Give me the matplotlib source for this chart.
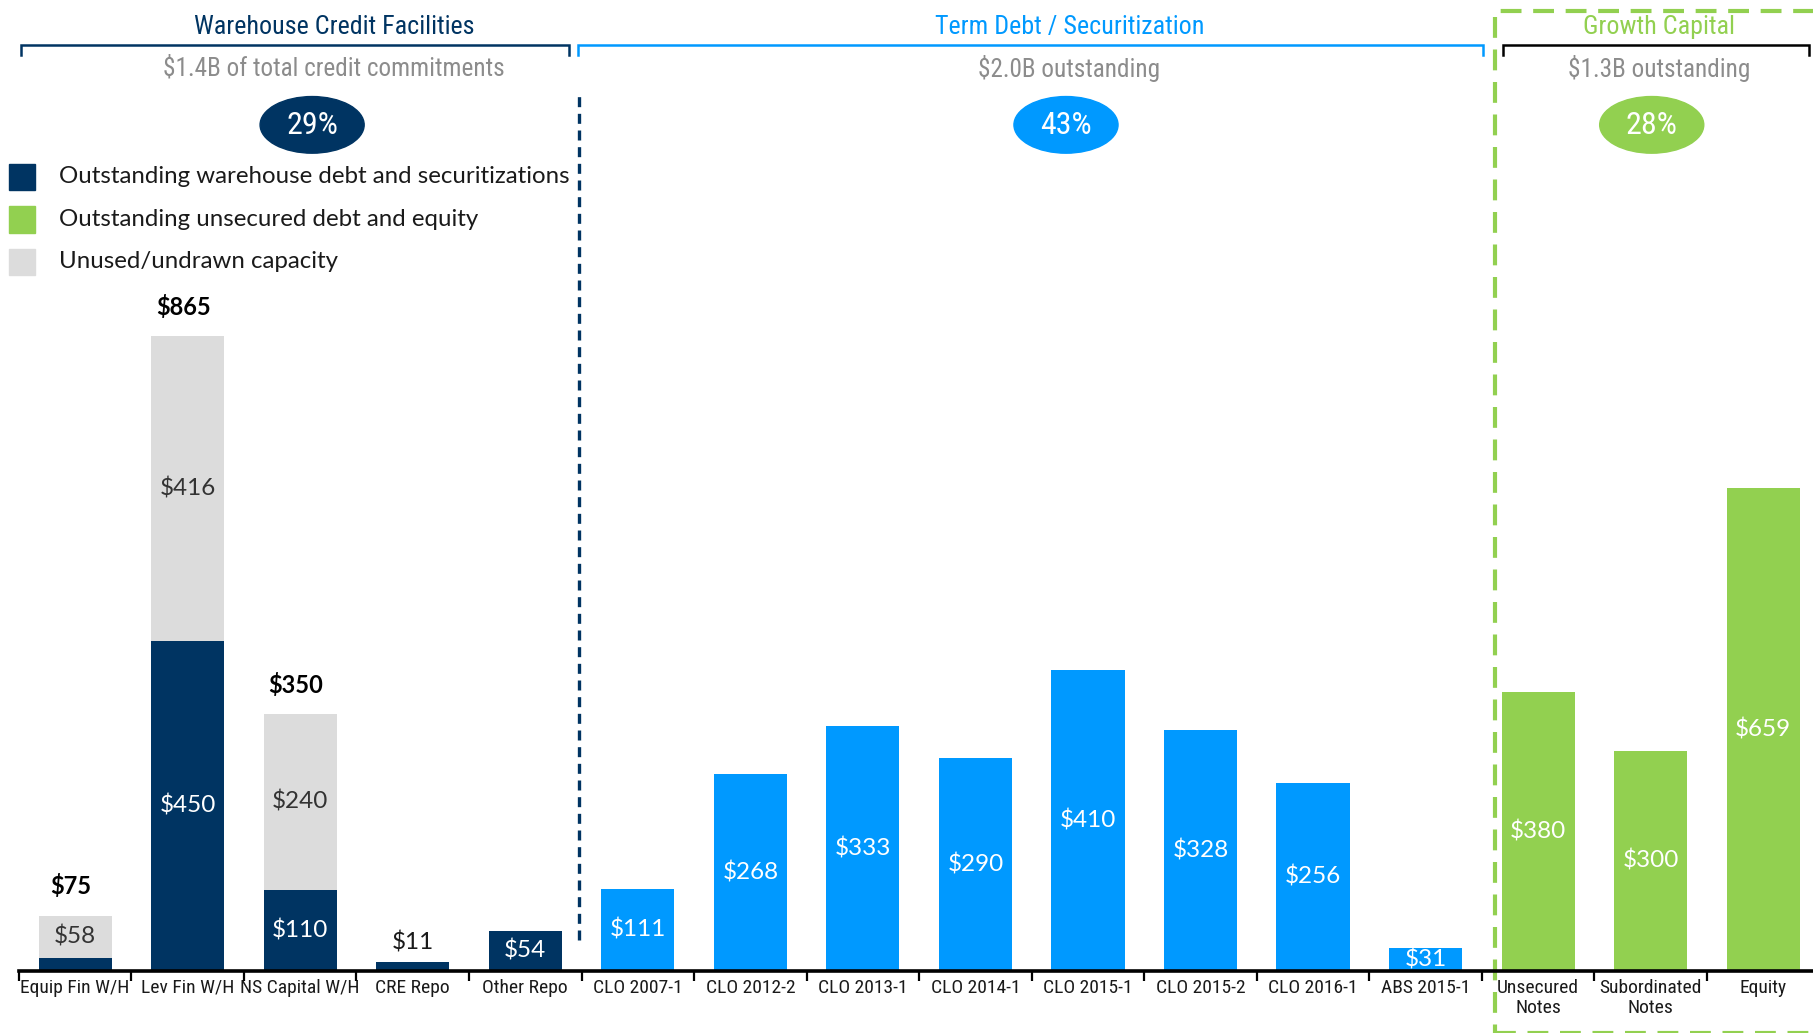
import matplotlib
matplotlib.use('Agg')
import matplotlib.pyplot as plt
from matplotlib import font_manager
from matplotlib.patches import Ellipse, Rectangle
import numpy as np


def pick(*names):
    for n in names:
        try:
            font_manager.findfont(font_manager.FontProperties(family=n), fallback_to_default=False)
            return n
        except Exception:
            pass
    return 'DejaVu Sans'


NARROW = pick('Liberation Sans Narrow', 'Roboto Condensed', 'Liberation Sans')
BODY = pick('Lato', 'Open Sans', 'DejaVu Sans')

# ---------------- data ----------------
wh_cats = ['Equip Fin W/H', 'Lev Fin W/H', 'NS Capital W/H', 'CRE Repo', 'Other Repo']
wh_outstanding = [17, 450, 110, 11, 54]
wh_unused = [58, 416, 240, 0, 0]
wh_totals = ['$75', '$865', '$350', '', '']

term_cats = ['CLO 2007-1', 'CLO 2012-2', 'CLO 2013-1', 'CLO 2014-1',
             'CLO 2015-1', 'CLO 2015-2', 'CLO 2016-1', 'ABS 2015-1']
term_outstanding = [111, 268, 333, 290, 410, 328, 256, 31]

growth_cats = ['Unsecured\nNotes', 'Subordinated\nNotes', 'Equity']
growth_outstanding = [380, 300, 659]

group_titles = ['Warehouse Credit Facilities', 'Term Debt / Securitization', 'Growth Capital']
group_subtitles = ['$1.4B of total credit commitments', '$2.0B outstanding', '$1.3B outstanding']
group_shares = ['29%', '43%', '28%']

legend_labels = ['Outstanding warehouse debt and securitizations',
                 'Outstanding unsecured debt and equity',
                 'Unused/undrawn capacity']

# ---------------- style ----------------
DARK = '#003462'
BLUE = '#0099FF'
GREEN = '#92D050'
GRAY = '#DCDCDC'
SUBGRAY = '#8C8C8C'
W = 0.65

fig = plt.figure(figsize=(18.13, 10.33), dpi=100)
ax = fig.add_axes([0.0104, 0.0605, 0.9896, 0.9395])
ax.set_xlim(-0.5, 15.443)
ax.set_ylim(0, 1324.4)

x_wh = np.arange(len(wh_cats))
x_term = np.arange(len(term_cats)) + len(wh_cats)
x_gr = np.arange(len(growth_cats)) + len(wh_cats) + len(term_cats)

ax.bar(x_wh, wh_outstanding, W, color=DARK, zorder=2)
ax.bar(x_wh, wh_unused, W, bottom=wh_outstanding, color=GRAY, zorder=2)
ax.bar(x_term, term_outstanding, W, color=BLUE, zorder=2)
ax.bar(x_gr, growth_outstanding, W, color=GREEN, zorder=2)

LBL = dict(family=BODY, fontsize=17.5, ha='center', va='center', zorder=3)

# warehouse labels
for x, o, u, t in zip(x_wh, wh_outstanding, wh_unused, wh_totals):
    if o >= 25:
        ax.text(x, o / 2, f'${o}', color='white', **LBL)
    elif u == 0:
        ax.text(x, o + 27, f'${o}', color='#1a1a1a', **LBL)
    if u > 0:
        ax.text(x, o + u / 2, f'${u}', color='#333333', **LBL)
    if t:
        ax.text(x - 0.04, o + u + 40, t, color='black', family=BODY, fontsize=17,
                fontweight='bold', ha='center', va='center')

for x, v in zip(x_term, term_outstanding):
    ax.text(x, v / 2, f'${v}', color='white', **LBL)
for x, v in zip(x_gr, growth_outstanding):
    ax.text(x, v / 2, f'${v}', color='white', **LBL)

# axis
cats = wh_cats + term_cats + growth_cats
ax.set_xticks(np.arange(len(cats)))
ax.set_xticklabels(cats, family=NARROW, fontsize=14, color='#1a1a1a', linespacing=1.15)
ax.set_xticks(np.arange(len(cats)) - 0.5, minor=True)
ax.tick_params(axis='x', which='major', length=0, pad=6)
ax.tick_params(axis='x', which='minor', length=7, width=1.6, color='black', direction='out')
ax.set_yticks([])
for s in ['top', 'right', 'left']:
    ax.spines[s].set_visible(False)
ax.spines['bottom'].set_linewidth(2.6)
ax.spines['bottom'].set_color('black')

# headers
title_x = [2.30, 8.836, 14.076]
title_c = [DARK, BLUE, GREEN]
bracket_x = [(-0.483, 4.387), (4.47, 12.51), (12.69, 15.41)]
bracket_c = [DARK, BLUE, 'black']
ell_x = [2.106, 8.805, 14.01]
ell_c = [DARK, BLUE, GREEN]
for i in range(3):
    ax.text(title_x[i], 1287, group_titles[i], color=title_c[i], family=NARROW,
            fontsize=18.7, ha='center', va='center', clip_on=False)
    ax.text(title_x[i], 1231, group_subtitles[i], color=SUBGRAY, family=NARROW,
            fontsize=18.2, ha='center', va='center', clip_on=False)
    x0, x1 = bracket_x[i]
    ax.plot([x0, x0, x1, x1], [1250, 1263, 1263, 1250], color=bracket_c[i], lw=1.8,
            clip_on=False, solid_joinstyle='miter')
    ax.add_patch(Ellipse((ell_x[i], 1154), width=0.925, height=77.3, color=ell_c[i],
                         clip_on=False))
    ax.text(ell_x[i], 1153, group_shares[i], color='white', family=NARROW,
            fontsize=23, ha='center', va='center')

# legend
leg_c = [DARK, GREEN, GRAY]
leg_y = [1083, 1025, 967]
for c, y, lab in zip(leg_c, leg_y, legend_labels):
    ax.add_patch(Rectangle((-0.586, y - 18), 0.226, 36, color=c, clip_on=False))
    ax.text(-0.144, y, lab, family=BODY, fontsize=17.3, color='#1a1a1a',
            ha='left', va='center', clip_on=False)

# separators
ax.plot([4.48, 4.48], [41, 1201], color=DARK, lw=2.4, ls=(0, (3, 2)), clip_on=False)
ax.add_patch(Rectangle((12.617, -85), 3.5, 1395, fill=False, ec=GREEN, lw=3.0,
                       ls=(0, (5, 2.8)), clip_on=False))

fig.savefig('out.png', dpi=100)
